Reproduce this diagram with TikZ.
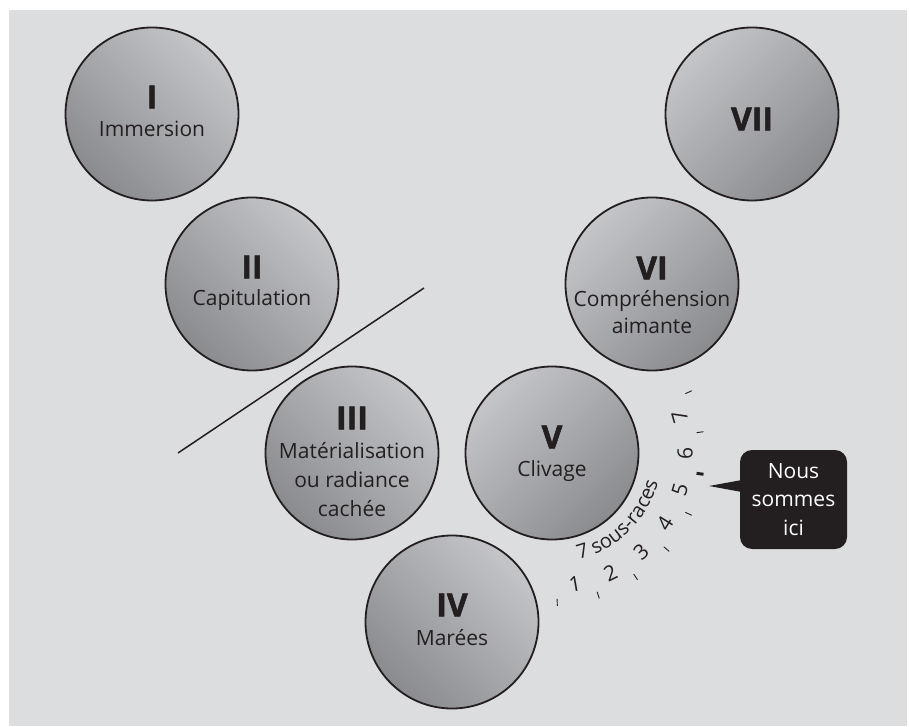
\documentclass[tikz,border=0pt]{standalone}
\usepackage{fontspec}
\setmainfont{Open Sans}
\newfontfamily\heavyfont{Open Sans}[BoldFeatures={FakeBold=1.6}]
\usetikzlibrary{calc,decorations.text}
\definecolor{bgpanel}{RGB}{220,221,223}
\definecolor{disclight}{RGB}{196,197,200}
\definecolor{discdark}{RGB}{138,139,143}
\definecolor{ink}{RGB}{35,31,32}
\begin{document}
\begin{tikzpicture}[x=1pt,y=1pt,
  disc/.style={circle,draw=ink,line width=1.8pt,minimum size=173pt,inner sep=0pt,
    top color=disclight,bottom color=discdark},
  discL/.style={disc,shading angle=-45},
  discR/.style={disc,shading angle=45},
  num/.style={font=\fontsize{32}{32}\selectfont\heavyfont\bfseries,text=ink,inner sep=0pt},
  lbl/.style={font=\fontsize{21}{28}\selectfont,text=ink,inner sep=0pt,anchor=base},
  digit/.style={font=\fontsize{21}{21}\selectfont,text=ink,inner sep=0pt},
  tickmark/.style={draw=ink,line width=0.9pt},
  bubble/.style={rectangle,rounded corners=12pt,fill=ink,text=white,align=center,
    minimum width=107pt,minimum height=99pt,inner sep=0pt,
    font=\fontsize{21}{28.5}\selectfont}
]
\useasboundingbox (0,0) rectangle (909,726);
\fill[white] (0,0) rectangle (909,726);
\fill[bgpanel] (9,0) rectangle (907,716);

% discs
\node[discL] (c1) at (152,612) {};
\node[discL] (c2) at (252,442) {};
\node[discL] (c3) at (352,273) {};
\node[discL] (c4) at (452,104) {};
\node[discR] (c5) at (552,273) {};
\node[discR] (c6) at (652,442) {};
\node[discR] (c7) at (752,612) {};

% labels
\node[num] (n1) at ($(c1)+(0,17)$) {I};
\node[lbl] (l1) at ($(c1)+(0,-23)$) {Immersion};
\node[num] (n2) at ($(c2)+(0,17)$) {II};
\node[lbl] (l2) at ($(c2)+(0,-22)$) {Capitulation};
\node[num] (n3) at ($(c3)+(0,35)$) {III};
\node[lbl] (l3a) at ($(c3)+(0,-5)$) {Matérialisation};
\node[lbl] (l3b) at ($(c3)+(0,-34)$) {ou radiance};
\node[lbl] (l3c) at ($(c3)+(0,-63)$) {cachée};
\node[num] (n4) at ($(c4)+(0,17)$) {IV};
\node[lbl] (l4) at ($(c4)+(0,-23)$) {Marées};
\node[num] (n5) at ($(c5)+(0,16)$) {V};
\node[lbl] (l5) at ($(c5)+(0,-23)$) {Clivage};
\node[num] (n6) at ($(c6)+(0,16)$) {VI};
\node[lbl] (l6a) at ($(c6)+(0,-23)$) {Compréhension};
\node[lbl] (l6b) at ($(c6)+(0,-50)$) {aimante};
\node[num] (n7) at ($(c7)+(0,-5)$) {VII};

% dividing line
\coordinate (sa) at (424,438);
\coordinate (sb) at (178,273);
\draw[ink,line width=1.5pt] (sa) -- (sb);

% sub-race scale around disc V
\foreach \k in {0,...,7}{
  \pgfmathsetmacro{\ang}{-88+16*\k}
  \ifnum\k=5
    \draw[tickmark,line width=3pt] ($(c5)+(\ang:146)$) -- ($(c5)+(\ang:153)$);
  \else
    \draw[tickmark] ($(c5)+(\ang:146)$) -- ($(c5)+(\ang:153)$);
  \fi
}
\foreach \k in {1,...,7}{
  \pgfmathsetmacro{\ang}{-96+16*\k}
  \pgfmathsetmacro{\rot}{\ang+90}
  \node[digit,rotate=\rot] (d\k) at ($(c5)+(\ang:133)$) {\k};
}
\path[decorate,decoration={text along path,text align=center,text color=ink,
  text={|\fontsize{20}{20}\selectfont|7 sous-races}}]
  ($(c5)+(-81:110)$) arc[start angle=-81,end angle=-10,radius=110];

% callout
\node[bubble] (here) at (793.5,226.5) {Nous\\sommes\\ici};
\coordinate (tip) at (709,240);
\fill[ink] (tip) -- ($(here.west)+(2,19.5)$) -- ($(here.west)+(2,7.5)$) -- cycle;
\end{tikzpicture}
\end{document}
